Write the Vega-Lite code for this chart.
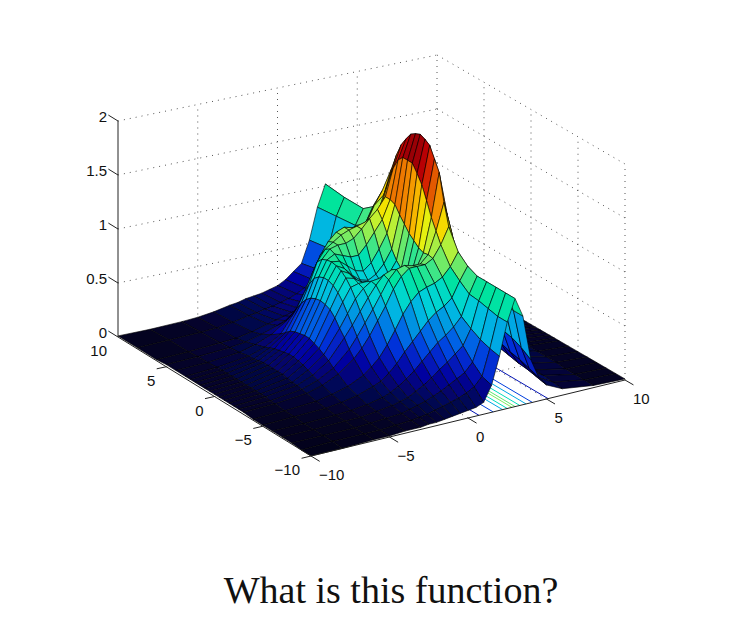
{"$schema":"https://vega.github.io/schema/vega-lite/v6.json","width":736,"height":560,"padding":0,"autosize":{"type":"pad"},"background":"white","config":{"view":{"stroke":null}},"title":{"text":"What is this function?","orient":"bottom","anchor":"middle","dx":23,"offset":13,"font":"Liberation Serif","fontSize":38,"fontWeight":"normal","color":"#111"},
"datasets":{"grid":[
{"u":-5,"v":10,"z":0,"u2":-5,"v2":10,"z2":2},{"u":0,"v":10,"z":0,"u2":0,"v2":10,"z2":2},{"u":5,"v":10,"z":0,"u2":5,"v2":10,"z2":2},{"u":10,"v":10,"z":0,"u2":10,"v2":10,"z2":2},{"u":10,"v":5,"z":0,"u2":10,"v2":5,"z2":2},{"u":10,"v":0,"z":0,"u2":10,"v2":0,"z2":2},{"u":10,"v":-5,"z":0,"u2":10,"v2":-5,"z2":2},{"u":10,"v":-10,"z":0,"u2":10,"v2":-10,"z2":2},
{"u":-10,"v":10,"z":0.5,"u2":10,"v2":10,"z2":0.5},{"u":-10,"v":10,"z":1,"u2":10,"v2":10,"z2":1},{"u":-10,"v":10,"z":1.5,"u2":10,"v2":10,"z2":1.5},{"u":-10,"v":10,"z":2,"u2":10,"v2":10,"z2":2},
{"u":10,"v":10,"z":0.5,"u2":10,"v2":-10,"z2":0.5},{"u":10,"v":10,"z":1,"u2":10,"v2":-10,"z2":1},{"u":10,"v":10,"z":1.5,"u2":10,"v2":-10,"z2":1.5},{"u":10,"v":10,"z":2,"u2":10,"v2":-10,"z2":2},
{"u":-5,"v":-10,"z":0,"u2":-5,"v2":10,"z2":0},{"u":0,"v":-10,"z":0,"u2":0,"v2":10,"z2":0},{"u":5,"v":-10,"z":0,"u2":5,"v2":10,"z2":0},{"u":-10,"v":-5,"z":0,"u2":10,"v2":-5,"z2":0},{"u":-10,"v":0,"z":0,"u2":10,"v2":0,"z2":0},{"u":-10,"v":5,"z":0,"u2":10,"v2":5,"z2":0}],
"box":[
{"u":-10,"v":10,"z":0,"u2":-10,"v2":10,"z2":2},{"u":-10,"v":10,"z":0,"u2":-10,"v2":-10,"z2":0},{"u":-10,"v":-10,"z":0,"u2":10,"v2":-10,"z2":0},
{"u":-10,"v":10,"z":0,"u2":-10,"v2":11,"z2":0},{"u":-10,"v":10,"z":0.5,"u2":-10,"v2":11,"z2":0.5},{"u":-10,"v":10,"z":1,"u2":-10,"v2":11,"z2":1},{"u":-10,"v":10,"z":1.5,"u2":-10,"v2":11,"z2":1.5},{"u":-10,"v":10,"z":2,"u2":-10,"v2":11,"z2":2},
{"u":-10,"v":5,"z":0,"u2":-10.6,"v2":5,"z2":0},{"u":-10,"v":0,"z":0,"u2":-10.6,"v2":0,"z2":0},{"u":-10,"v":-5,"z":0,"u2":-10.6,"v2":-5,"z2":0},{"u":-10,"v":-10,"z":0,"u2":-10.6,"v2":-10,"z2":0},
{"u":-10,"v":-10,"z":0,"u2":-10,"v2":-10.9,"z2":0},{"u":-5,"v":-10,"z":0,"u2":-5,"v2":-10.9,"z2":0},{"u":0,"v":-10,"z":0,"u2":0,"v2":-10.9,"z2":0},{"u":5,"v":-10,"z":0,"u2":5,"v2":-10.9,"z2":0},{"u":10,"v":-10,"z":0,"u2":10,"v2":-10.9,"z2":0}],
"contour":[
{"u":0.7,"v":-10,"z":0,"u2":0.7,"v2":0,"z2":0,"c":0.3},{"u":1.6,"v":-10,"z":0,"u2":1.6,"v2":0,"z2":0,"c":0.42},{"u":2.2,"v":-10,"z":0,"u2":2.2,"v2":0,"z2":0,"c":0.65},{"u":2.5,"v":-10,"z":0,"u2":2.5,"v2":0,"z2":0,"c":0.85},{"u":2.8,"v":-10,"z":0,"u2":2.8,"v2":0,"z2":0,"c":1.05},{"u":3,"v":-10,"z":0,"u2":3,"v2":0,"z2":0,"c":1.0},{"u":3.3,"v":-10,"z":0,"u2":3.3,"v2":0,"z2":0,"c":0.85},{"u":3.7,"v":-10,"z":0,"u2":3.7,"v2":0,"z2":0,"c":0.65},{"u":4.1,"v":-10,"z":0,"u2":4.1,"v2":0,"z2":0,"c":0.42},{"u":5.1,"v":-10,"z":0,"u2":5.1,"v2":0,"z2":0,"c":0.3}],
"zl":[{"t":"0","z":0},{"t":"0.5","z":0.5},{"t":"1","z":1},{"t":"1.5","z":1.5},{"t":"2","z":2}],
"vl":[{"t":"10","v":10},{"t":"5","v":5},{"t":"0","v":0},{"t":"−5","v":-5},{"t":"−10","v":-10}],
"ul":[{"t":"−10","u":-10},{"t":"−5","u":-5},{"t":"0","u":0},{"t":"5","u":5},{"t":"10","u":10}],
"surf":[
{"u":-10,"v":10,"z":0.01},{"u":-8,"v":10,"z":0.01},{"u":-6,"v":10,"z":0.02},{"u":-5,"v":10,"z":0.03},{"u":-4,"v":10,"z":0.05},{"u":-3,"v":10,"z":0.08},{"u":-2.5,"v":10,"z":0.09},{"u":-2,"v":10,"z":0.11},{"u":-1.5,"v":10,"z":0.12},{"u":-1,"v":10,"z":0.13},{"u":-0.5,"v":10,"z":0.15},{"u":0,"v":10,"z":0.17},{"u":0.5,"v":10,"z":0.21},{"u":1,"v":10,"z":0.27},{"u":1.5,"v":10,"z":0.33},{"u":2,"v":10,"z":0.53},{"u":2.5,"v":10,"z":0.82},{"u":3,"v":10,"z":1.02},{"u":3.5,"v":10,"z":0.85},{"u":4,"v":10,"z":0.55},{"u":4.5,"v":10,"z":0.35},{"u":5,"v":10,"z":0.22},{"u":6,"v":10,"z":0.1},{"u":8,"v":10,"z":0.03},{"u":10,"v":10,"z":0.01},
{"u":-10,"v":8,"z":0.01},{"u":-8,"v":8,"z":0.02},{"u":-6,"v":8,"z":0.03},{"u":-5,"v":8,"z":0.04},{"u":-4,"v":8,"z":0.06},{"u":-3,"v":8,"z":0.09},{"u":-2.5,"v":8,"z":0.1},{"u":-2,"v":8,"z":0.12},{"u":-1.5,"v":8,"z":0.13},{"u":-1,"v":8,"z":0.15},{"u":-0.5,"v":8,"z":0.17},{"u":0,"v":8,"z":0.2},{"u":0.5,"v":8,"z":0.24},{"u":1,"v":8,"z":0.3},{"u":1.5,"v":8,"z":0.37},{"u":2,"v":8,"z":0.56},{"u":2.5,"v":8,"z":0.84},{"u":3,"v":8,"z":1.0},{"u":3.5,"v":8,"z":0.83},{"u":4,"v":8,"z":0.54},{"u":4.5,"v":8,"z":0.35},{"u":5,"v":8,"z":0.22},{"u":6,"v":8,"z":0.1},{"u":8,"v":8,"z":0.03},{"u":10,"v":8,"z":0.01},
{"u":-10,"v":6,"z":0.01},{"u":-8,"v":6,"z":0.02},{"u":-6,"v":6,"z":0.04},{"u":-5,"v":6,"z":0.05},{"u":-4,"v":6,"z":0.08},{"u":-3,"v":6,"z":0.12},{"u":-2.5,"v":6,"z":0.14},{"u":-2,"v":6,"z":0.16},{"u":-1.5,"v":6,"z":0.18},{"u":-1,"v":6,"z":0.2},{"u":-0.5,"v":6,"z":0.23},{"u":0,"v":6,"z":0.27},{"u":0.5,"v":6,"z":0.32},{"u":1,"v":6,"z":0.38},{"u":1.5,"v":6,"z":0.46},{"u":2,"v":6,"z":0.62},{"u":2.5,"v":6,"z":0.86},{"u":3,"v":6,"z":1.0},{"u":3.5,"v":6,"z":0.84},{"u":4,"v":6,"z":0.55},{"u":4.5,"v":6,"z":0.36},{"u":5,"v":6,"z":0.23},{"u":6,"v":6,"z":0.1},{"u":8,"v":6,"z":0.03},{"u":10,"v":6,"z":0.01},
{"u":-10,"v":5,"z":0.02},{"u":-8,"v":5,"z":0.03},{"u":-6,"v":5,"z":0.05},{"u":-5,"v":5,"z":0.07},{"u":-4,"v":5,"z":0.11},{"u":-3,"v":5,"z":0.16},{"u":-2.5,"v":5,"z":0.19},{"u":-2,"v":5,"z":0.22},{"u":-1.5,"v":5,"z":0.26},{"u":-1,"v":5,"z":0.3},{"u":-0.5,"v":5,"z":0.35},{"u":0,"v":5,"z":0.4},{"u":0.5,"v":5,"z":0.46},{"u":1,"v":5,"z":0.52},{"u":1.5,"v":5,"z":0.6},{"u":2,"v":5,"z":0.72},{"u":2.5,"v":5,"z":0.92},{"u":3,"v":5,"z":1.07},{"u":3.5,"v":5,"z":0.88},{"u":4,"v":5,"z":0.58},{"u":4.5,"v":5,"z":0.38},{"u":5,"v":5,"z":0.25},{"u":6,"v":5,"z":0.11},{"u":8,"v":5,"z":0.03},{"u":10,"v":5,"z":0.01},
{"u":-10,"v":4,"z":0.02},{"u":-8,"v":4,"z":0.03},{"u":-6,"v":4,"z":0.06},{"u":-5,"v":4,"z":0.1},{"u":-4,"v":4,"z":0.16},{"u":-3,"v":4,"z":0.26},{"u":-2.5,"v":4,"z":0.33},{"u":-2,"v":4,"z":0.42},{"u":-1.5,"v":4,"z":0.52},{"u":-1,"v":4,"z":0.62},{"u":-0.5,"v":4,"z":0.72},{"u":0,"v":4,"z":0.82},{"u":0.5,"v":4,"z":0.87},{"u":1,"v":4,"z":0.9},{"u":1.5,"v":4,"z":0.95},{"u":2,"v":4,"z":1.0},{"u":2.5,"v":4,"z":1.15},{"u":3,"v":4,"z":1.27},{"u":3.5,"v":4,"z":1.02},{"u":4,"v":4,"z":0.65},{"u":4.5,"v":4,"z":0.42},{"u":5,"v":4,"z":0.27},{"u":6,"v":4,"z":0.12},{"u":8,"v":4,"z":0.04},{"u":10,"v":4,"z":0.01},
{"u":-10,"v":3,"z":0.02},{"u":-8,"v":3,"z":0.04},{"u":-6,"v":3,"z":0.08},{"u":-5,"v":3,"z":0.13},{"u":-4,"v":3,"z":0.22},{"u":-3,"v":3,"z":0.42},{"u":-2.5,"v":3,"z":0.56},{"u":-2,"v":3,"z":0.72},{"u":-1.5,"v":3,"z":0.87},{"u":-1,"v":3,"z":0.98},{"u":-0.5,"v":3,"z":1.05},{"u":0,"v":3,"z":1.08},{"u":0.5,"v":3,"z":1.06},{"u":1,"v":3,"z":1.05},{"u":1.5,"v":3,"z":1.05},{"u":2,"v":3,"z":1.1},{"u":2.5,"v":3,"z":1.3},{"u":3,"v":3,"z":1.53},{"u":3.5,"v":3,"z":1.2},{"u":4,"v":3,"z":0.75},{"u":4.5,"v":3,"z":0.47},{"u":5,"v":3,"z":0.3},{"u":6,"v":3,"z":0.13},{"u":8,"v":3,"z":0.04},{"u":10,"v":3,"z":0.01},
{"u":-10,"v":2.5,"z":0.02},{"u":-8,"v":2.5,"z":0.04},{"u":-6,"v":2.5,"z":0.08},{"u":-5,"v":2.5,"z":0.15},{"u":-4,"v":2.5,"z":0.26},{"u":-3,"v":2.5,"z":0.5},{"u":-2.5,"v":2.5,"z":0.66},{"u":-2,"v":2.5,"z":0.85},{"u":-1.5,"v":2.5,"z":0.95},{"u":-1,"v":2.5,"z":1.0},{"u":-0.5,"v":2.5,"z":1.05},{"u":0,"v":2.5,"z":1.08},{"u":0.5,"v":2.5,"z":1.1},{"u":1,"v":2.5,"z":1.12},{"u":1.5,"v":2.5,"z":1.14},{"u":2,"v":2.5,"z":1.22},{"u":2.5,"v":2.5,"z":1.45},{"u":3,"v":2.5,"z":1.68},{"u":3.5,"v":2.5,"z":1.3},{"u":4,"v":2.5,"z":0.8},{"u":4.5,"v":2.5,"z":0.5},{"u":5,"v":2.5,"z":0.32},{"u":6,"v":2.5,"z":0.13},{"u":8,"v":2.5,"z":0.04},{"u":10,"v":2.5,"z":0.01},
{"u":-10,"v":2,"z":0.02},{"u":-8,"v":2,"z":0.04},{"u":-6,"v":2,"z":0.09},{"u":-5,"v":2,"z":0.17},{"u":-4,"v":2,"z":0.3},{"u":-3,"v":2,"z":0.56},{"u":-2.5,"v":2,"z":0.74},{"u":-2,"v":2,"z":0.9},{"u":-1.5,"v":2,"z":0.98},{"u":-1,"v":2,"z":1.0},{"u":-0.5,"v":2,"z":1.0},{"u":0,"v":2,"z":1.03},{"u":0.5,"v":2,"z":1.1},{"u":1,"v":2,"z":1.18},{"u":1.5,"v":2,"z":1.25},{"u":2,"v":2,"z":1.35},{"u":2.5,"v":2,"z":1.6},{"u":3,"v":2,"z":1.8},{"u":3.5,"v":2,"z":1.4},{"u":4,"v":2,"z":0.85},{"u":4.5,"v":2,"z":0.53},{"u":5,"v":2,"z":0.33},{"u":6,"v":2,"z":0.14},{"u":8,"v":2,"z":0.04},{"u":10,"v":2,"z":0.01},
{"u":-10,"v":1.5,"z":0.02},{"u":-8,"v":1.5,"z":0.04},{"u":-6,"v":1.5,"z":0.1},{"u":-5,"v":1.5,"z":0.18},{"u":-4,"v":1.5,"z":0.32},{"u":-3,"v":1.5,"z":0.6},{"u":-2.5,"v":1.5,"z":0.78},{"u":-2,"v":1.5,"z":0.92},{"u":-1.5,"v":1.5,"z":0.96},{"u":-1,"v":1.5,"z":0.93},{"u":-0.5,"v":1.5,"z":0.9},{"u":0,"v":1.5,"z":0.9},{"u":0.5,"v":1.5,"z":0.98},{"u":1,"v":1.5,"z":1.08},{"u":1.5,"v":1.5,"z":1.18},{"u":2,"v":1.5,"z":1.35},{"u":2.5,"v":1.5,"z":1.7},{"u":3,"v":1.5,"z":1.88},{"u":3.5,"v":1.5,"z":1.45},{"u":4,"v":1.5,"z":0.88},{"u":4.5,"v":1.5,"z":0.54},{"u":5,"v":1.5,"z":0.34},{"u":6,"v":1.5,"z":0.14},{"u":8,"v":1.5,"z":0.04},{"u":10,"v":1.5,"z":0.01},
{"u":-10,"v":1,"z":0.02},{"u":-8,"v":1,"z":0.04},{"u":-6,"v":1,"z":0.1},{"u":-5,"v":1,"z":0.19},{"u":-4,"v":1,"z":0.33},{"u":-3,"v":1,"z":0.62},{"u":-2.5,"v":1,"z":0.8},{"u":-2,"v":1,"z":0.93},{"u":-1.5,"v":1,"z":0.92},{"u":-1,"v":1,"z":0.86},{"u":-0.5,"v":1,"z":0.8},{"u":0,"v":1,"z":0.78},{"u":0.5,"v":1,"z":0.84},{"u":1,"v":1,"z":0.95},{"u":1.5,"v":1,"z":1.08},{"u":2,"v":1,"z":1.33},{"u":2.5,"v":1,"z":1.75},{"u":3,"v":1,"z":1.95},{"u":3.5,"v":1,"z":1.5},{"u":4,"v":1,"z":0.9},{"u":4.5,"v":1,"z":0.55},{"u":5,"v":1,"z":0.35},{"u":6,"v":1,"z":0.15},{"u":8,"v":1,"z":0.04},{"u":10,"v":1,"z":0.01},
{"u":-10,"v":0.5,"z":0.02},{"u":-8,"v":0.5,"z":0.04},{"u":-6,"v":0.5,"z":0.1},{"u":-5,"v":0.5,"z":0.2},{"u":-4,"v":0.5,"z":0.34},{"u":-3,"v":0.5,"z":0.63},{"u":-2.5,"v":0.5,"z":0.8},{"u":-2,"v":0.5,"z":0.92},{"u":-1.5,"v":0.5,"z":0.88},{"u":-1,"v":0.5,"z":0.8},{"u":-0.5,"v":0.5,"z":0.74},{"u":0,"v":0.5,"z":0.72},{"u":0.5,"v":0.5,"z":0.76},{"u":1,"v":0.5,"z":0.84},{"u":1.5,"v":0.5,"z":0.96},{"u":2,"v":0.5,"z":1.26},{"u":2.5,"v":0.5,"z":1.75},{"u":3,"v":0.5,"z":1.98},{"u":3.5,"v":0.5,"z":1.53},{"u":4,"v":0.5,"z":0.91},{"u":4.5,"v":0.5,"z":0.56},{"u":5,"v":0.5,"z":0.36},{"u":6,"v":0.5,"z":0.15},{"u":8,"v":0.5,"z":0.04},{"u":10,"v":0.5,"z":0.01},
{"u":-10,"v":0,"z":0.02},{"u":-8,"v":0,"z":0.04},{"u":-6,"v":0,"z":0.1},{"u":-5,"v":0,"z":0.2},{"u":-4,"v":0,"z":0.34},{"u":-3,"v":0,"z":0.62},{"u":-2.5,"v":0,"z":0.78},{"u":-2,"v":0,"z":0.9},{"u":-1.5,"v":0,"z":0.86},{"u":-1,"v":0,"z":0.78},{"u":-0.5,"v":0,"z":0.72},{"u":0,"v":0,"z":0.7},{"u":0.5,"v":0,"z":0.72},{"u":1,"v":0,"z":0.77},{"u":1.5,"v":0,"z":0.88},{"u":2,"v":0,"z":1.2},{"u":2.5,"v":0,"z":1.75},{"u":3,"v":0,"z":2.0},{"u":3.5,"v":0,"z":1.55},{"u":4,"v":0,"z":0.92},{"u":4.5,"v":0,"z":0.56},{"u":5,"v":0,"z":0.36},{"u":6,"v":0,"z":0.15},{"u":8,"v":0,"z":0.04},{"u":10,"v":0,"z":0.01},
{"u":-10,"v":-0.5,"z":0.02},{"u":-8,"v":-0.5,"z":0.04},{"u":-6,"v":-0.5,"z":0.1},{"u":-5,"v":-0.5,"z":0.19},{"u":-4,"v":-0.5,"z":0.32},{"u":-3,"v":-0.5,"z":0.6},{"u":-2.5,"v":-0.5,"z":0.74},{"u":-2,"v":-0.5,"z":0.86},{"u":-1.5,"v":-0.5,"z":0.84},{"u":-1,"v":-0.5,"z":0.79},{"u":-0.5,"v":-0.5,"z":0.73},{"u":0,"v":-0.5,"z":0.7},{"u":0.5,"v":-0.5,"z":0.7},{"u":1,"v":-0.5,"z":0.73},{"u":1.5,"v":-0.5,"z":0.83},{"u":2,"v":-0.5,"z":1.14},{"u":2.5,"v":-0.5,"z":1.68},{"u":3,"v":-0.5,"z":1.98},{"u":3.5,"v":-0.5,"z":1.53},{"u":4,"v":-0.5,"z":0.91},{"u":4.5,"v":-0.5,"z":0.56},{"u":5,"v":-0.5,"z":0.36},{"u":6,"v":-0.5,"z":0.15},{"u":8,"v":-0.5,"z":0.04},{"u":10,"v":-0.5,"z":0.01},
{"u":-10,"v":-1,"z":0.02},{"u":-8,"v":-1,"z":0.04},{"u":-6,"v":-1,"z":0.09},{"u":-5,"v":-1,"z":0.18},{"u":-4,"v":-1,"z":0.3},{"u":-3,"v":-1,"z":0.55},{"u":-2.5,"v":-1,"z":0.68},{"u":-2,"v":-1,"z":0.8},{"u":-1.5,"v":-1,"z":0.82},{"u":-1,"v":-1,"z":0.82},{"u":-0.5,"v":-1,"z":0.78},{"u":0,"v":-1,"z":0.74},{"u":0.5,"v":-1,"z":0.72},{"u":1,"v":-1,"z":0.72},{"u":1.5,"v":-1,"z":0.8},{"u":2,"v":-1,"z":1.1},{"u":2.5,"v":-1,"z":1.6},{"u":3,"v":-1,"z":1.95},{"u":3.5,"v":-1,"z":1.5},{"u":4,"v":-1,"z":0.9},{"u":4.5,"v":-1,"z":0.55},{"u":5,"v":-1,"z":0.35},{"u":6,"v":-1,"z":0.15},{"u":8,"v":-1,"z":0.04},{"u":10,"v":-1,"z":0.01},
{"u":-10,"v":-1.5,"z":0.02},{"u":-8,"v":-1.5,"z":0.04},{"u":-6,"v":-1.5,"z":0.08},{"u":-5,"v":-1.5,"z":0.16},{"u":-4,"v":-1.5,"z":0.27},{"u":-3,"v":-1.5,"z":0.48},{"u":-2.5,"v":-1.5,"z":0.6},{"u":-2,"v":-1.5,"z":0.72},{"u":-1.5,"v":-1.5,"z":0.8},{"u":-1,"v":-1.5,"z":0.85},{"u":-0.5,"v":-1.5,"z":0.86},{"u":0,"v":-1.5,"z":0.84},{"u":0.5,"v":-1.5,"z":0.8},{"u":1,"v":-1.5,"z":0.78},{"u":1.5,"v":-1.5,"z":0.82},{"u":2,"v":-1.5,"z":1.06},{"u":2.5,"v":-1.5,"z":1.48},{"u":3,"v":-1.5,"z":1.85},{"u":3.5,"v":-1.5,"z":1.42},{"u":4,"v":-1.5,"z":0.86},{"u":4.5,"v":-1.5,"z":0.53},{"u":5,"v":-1.5,"z":0.33},{"u":6,"v":-1.5,"z":0.14},{"u":8,"v":-1.5,"z":0.04},{"u":10,"v":-1.5,"z":0.01},
{"u":-10,"v":-2,"z":0.02},{"u":-8,"v":-2,"z":0.04},{"u":-6,"v":-2,"z":0.08},{"u":-5,"v":-2,"z":0.14},{"u":-4,"v":-2,"z":0.24},{"u":-3,"v":-2,"z":0.42},{"u":-2.5,"v":-2,"z":0.52},{"u":-2,"v":-2,"z":0.63},{"u":-1.5,"v":-2,"z":0.74},{"u":-1,"v":-2,"z":0.84},{"u":-0.5,"v":-2,"z":0.92},{"u":0,"v":-2,"z":0.95},{"u":0.5,"v":-2,"z":0.92},{"u":1,"v":-2,"z":0.88},{"u":1.5,"v":-2,"z":0.9},{"u":2,"v":-2,"z":1.04},{"u":2.5,"v":-2,"z":1.35},{"u":3,"v":-2,"z":1.75},{"u":3.5,"v":-2,"z":1.35},{"u":4,"v":-2,"z":0.82},{"u":4.5,"v":-2,"z":0.5},{"u":5,"v":-2,"z":0.32},{"u":6,"v":-2,"z":0.14},{"u":8,"v":-2,"z":0.04},{"u":10,"v":-2,"z":0.01},
{"u":-10,"v":-2.5,"z":0.02},{"u":-8,"v":-2.5,"z":0.03},{"u":-6,"v":-2.5,"z":0.07},{"u":-5,"v":-2.5,"z":0.12},{"u":-4,"v":-2.5,"z":0.2},{"u":-3,"v":-2.5,"z":0.34},{"u":-2.5,"v":-2.5,"z":0.44},{"u":-2,"v":-2.5,"z":0.55},{"u":-1.5,"v":-2.5,"z":0.66},{"u":-1,"v":-2.5,"z":0.78},{"u":-0.5,"v":-2.5,"z":0.9},{"u":0,"v":-2.5,"z":0.98},{"u":0.5,"v":-2.5,"z":1.0},{"u":1,"v":-2.5,"z":0.98},{"u":1.5,"v":-2.5,"z":0.98},{"u":2,"v":-2.5,"z":1.05},{"u":2.5,"v":-2.5,"z":1.25},{"u":3,"v":-2.5,"z":1.5},{"u":3.5,"v":-2.5,"z":1.2},{"u":4,"v":-2.5,"z":0.75},{"u":4.5,"v":-2.5,"z":0.46},{"u":5,"v":-2.5,"z":0.3},{"u":6,"v":-2.5,"z":0.13},{"u":8,"v":-2.5,"z":0.03},{"u":10,"v":-2.5,"z":0.01},
{"u":-10,"v":-3,"z":0.02},{"u":-8,"v":-3,"z":0.03},{"u":-6,"v":-3,"z":0.06},{"u":-5,"v":-3,"z":0.1},{"u":-4,"v":-3,"z":0.17},{"u":-3,"v":-3,"z":0.28},{"u":-2.5,"v":-3,"z":0.36},{"u":-2,"v":-3,"z":0.46},{"u":-1.5,"v":-3,"z":0.58},{"u":-1,"v":-3,"z":0.7},{"u":-0.5,"v":-3,"z":0.84},{"u":0,"v":-3,"z":0.94},{"u":0.5,"v":-3,"z":1.0},{"u":1,"v":-3,"z":1.0},{"u":1.5,"v":-3,"z":1.0},{"u":2,"v":-3,"z":1.04},{"u":2.5,"v":-3,"z":1.15},{"u":3,"v":-3,"z":1.3},{"u":3.5,"v":-3,"z":1.05},{"u":4,"v":-3,"z":0.68},{"u":4.5,"v":-3,"z":0.43},{"u":5,"v":-3,"z":0.28},{"u":6,"v":-3,"z":0.12},{"u":8,"v":-3,"z":0.03},{"u":10,"v":-3,"z":0.01},
{"u":-10,"v":-4,"z":0.01},{"u":-8,"v":-4,"z":0.02},{"u":-6,"v":-4,"z":0.04},{"u":-5,"v":-4,"z":0.07},{"u":-4,"v":-4,"z":0.11},{"u":-3,"v":-4,"z":0.18},{"u":-2.5,"v":-4,"z":0.24},{"u":-2,"v":-4,"z":0.31},{"u":-1.5,"v":-4,"z":0.41},{"u":-1,"v":-4,"z":0.53},{"u":-0.5,"v":-4,"z":0.66},{"u":0,"v":-4,"z":0.76},{"u":0.5,"v":-4,"z":0.83},{"u":1,"v":-4,"z":0.86},{"u":1.5,"v":-4,"z":0.88},{"u":2,"v":-4,"z":0.92},{"u":2.5,"v":-4,"z":1.0},{"u":3,"v":-4,"z":1.12},{"u":3.5,"v":-4,"z":0.92},{"u":4,"v":-4,"z":0.6},{"u":4.5,"v":-4,"z":0.38},{"u":5,"v":-4,"z":0.24},{"u":6,"v":-4,"z":0.11},{"u":8,"v":-4,"z":0.03},{"u":10,"v":-4,"z":0.01},
{"u":-10,"v":-5,"z":0.01},{"u":-8,"v":-5,"z":0.02},{"u":-6,"v":-5,"z":0.03},{"u":-5,"v":-5,"z":0.05},{"u":-4,"v":-5,"z":0.08},{"u":-3,"v":-5,"z":0.13},{"u":-2.5,"v":-5,"z":0.16},{"u":-2,"v":-5,"z":0.22},{"u":-1.5,"v":-5,"z":0.29},{"u":-1,"v":-5,"z":0.38},{"u":-0.5,"v":-5,"z":0.46},{"u":0,"v":-5,"z":0.54},{"u":0.5,"v":-5,"z":0.62},{"u":1,"v":-5,"z":0.68},{"u":1.5,"v":-5,"z":0.72},{"u":2,"v":-5,"z":0.78},{"u":2.5,"v":-5,"z":0.92},{"u":3,"v":-5,"z":1.04},{"u":3.5,"v":-5,"z":0.86},{"u":4,"v":-5,"z":0.56},{"u":4.5,"v":-5,"z":0.35},{"u":5,"v":-5,"z":0.22},{"u":6,"v":-5,"z":0.1},{"u":8,"v":-5,"z":0.03},{"u":10,"v":-5,"z":0.01},
{"u":-10,"v":-6,"z":0.01},{"u":-8,"v":-6,"z":0.01},{"u":-6,"v":-6,"z":0.02},{"u":-5,"v":-6,"z":0.03},{"u":-4,"v":-6,"z":0.05},{"u":-3,"v":-6,"z":0.08},{"u":-2.5,"v":-6,"z":0.11},{"u":-2,"v":-6,"z":0.15},{"u":-1.5,"v":-6,"z":0.2},{"u":-1,"v":-6,"z":0.26},{"u":-0.5,"v":-6,"z":0.33},{"u":0,"v":-6,"z":0.4},{"u":0.5,"v":-6,"z":0.47},{"u":1,"v":-6,"z":0.52},{"u":1.5,"v":-6,"z":0.58},{"u":2,"v":-6,"z":0.66},{"u":2.5,"v":-6,"z":0.85},{"u":3,"v":-6,"z":1.0},{"u":3.5,"v":-6,"z":0.84},{"u":4,"v":-6,"z":0.54},{"u":4.5,"v":-6,"z":0.33},{"u":5,"v":-6,"z":0.2},{"u":6,"v":-6,"z":0.09},{"u":8,"v":-6,"z":0.03},{"u":10,"v":-6,"z":0.01},
{"u":-10,"v":-7,"z":0.01},{"u":-8,"v":-7,"z":0.01},{"u":-6,"v":-7,"z":0.02},{"u":-5,"v":-7,"z":0.02},{"u":-4,"v":-7,"z":0.04},{"u":-3,"v":-7,"z":0.06},{"u":-2.5,"v":-7,"z":0.08},{"u":-2,"v":-7,"z":0.1},{"u":-1.5,"v":-7,"z":0.14},{"u":-1,"v":-7,"z":0.18},{"u":-0.5,"v":-7,"z":0.23},{"u":0,"v":-7,"z":0.29},{"u":0.5,"v":-7,"z":0.34},{"u":1,"v":-7,"z":0.4},{"u":1.5,"v":-7,"z":0.46},{"u":2,"v":-7,"z":0.6},{"u":2.5,"v":-7,"z":0.84},{"u":3,"v":-7,"z":1.0},{"u":3.5,"v":-7,"z":0.83},{"u":4,"v":-7,"z":0.52},{"u":4.5,"v":-7,"z":0.3},{"u":5,"v":-7,"z":0.18},{"u":6,"v":-7,"z":0.08},{"u":8,"v":-7,"z":0.02},{"u":10,"v":-7,"z":0.01},
{"u":-10,"v":-8,"z":0.01},{"u":-8,"v":-8,"z":0.01},{"u":-6,"v":-8,"z":0.01},{"u":-5,"v":-8,"z":0.02},{"u":-4,"v":-8,"z":0.03},{"u":-3,"v":-8,"z":0.04},{"u":-2.5,"v":-8,"z":0.06},{"u":-2,"v":-8,"z":0.08},{"u":-1.5,"v":-8,"z":0.1},{"u":-1,"v":-8,"z":0.13},{"u":-0.5,"v":-8,"z":0.16},{"u":0,"v":-8,"z":0.2},{"u":0.5,"v":-8,"z":0.24},{"u":1,"v":-8,"z":0.28},{"u":1.5,"v":-8,"z":0.36},{"u":2,"v":-8,"z":0.55},{"u":2.5,"v":-8,"z":0.82},{"u":3,"v":-8,"z":1.0},{"u":3.5,"v":-8,"z":0.83},{"u":4,"v":-8,"z":0.5},{"u":4.5,"v":-8,"z":0.28},{"u":5,"v":-8,"z":0.17},{"u":6,"v":-8,"z":0.08},{"u":8,"v":-8,"z":0.02},{"u":10,"v":-8,"z":0.01},
{"u":-10,"v":-9,"z":0},{"u":-8,"v":-9,"z":0.01},{"u":-6,"v":-9,"z":0.01},{"u":-5,"v":-9,"z":0.01},{"u":-4,"v":-9,"z":0.02},{"u":-3,"v":-9,"z":0.03},{"u":-2.5,"v":-9,"z":0.04},{"u":-2,"v":-9,"z":0.05},{"u":-1.5,"v":-9,"z":0.07},{"u":-1,"v":-9,"z":0.09},{"u":-0.5,"v":-9,"z":0.11},{"u":0,"v":-9,"z":0.13},{"u":0.5,"v":-9,"z":0.16},{"u":1,"v":-9,"z":0.2},{"u":1.5,"v":-9,"z":0.28},{"u":2,"v":-9,"z":0.52},{"u":2.5,"v":-9,"z":0.8},{"u":3,"v":-9,"z":1.0},{"u":3.5,"v":-9,"z":0.82},{"u":4,"v":-9,"z":0.46},{"u":4.5,"v":-9,"z":0.25},{"u":5,"v":-9,"z":0.15},{"u":6,"v":-9,"z":0.07},{"u":8,"v":-9,"z":0.02},{"u":10,"v":-9,"z":0.01},
{"u":-10,"v":-10,"z":0},{"u":-8,"v":-10,"z":0},{"u":-6,"v":-10,"z":0.01},{"u":-5,"v":-10,"z":0.01},{"u":-4,"v":-10,"z":0.02},{"u":-3,"v":-10,"z":0.02},{"u":-2.5,"v":-10,"z":0.03},{"u":-2,"v":-10,"z":0.03},{"u":-1.5,"v":-10,"z":0.04},{"u":-1,"v":-10,"z":0.05},{"u":-0.5,"v":-10,"z":0.06},{"u":0,"v":-10,"z":0.07},{"u":0.5,"v":-10,"z":0.08},{"u":1,"v":-10,"z":0.11},{"u":1.5,"v":-10,"z":0.25},{"u":2,"v":-10,"z":0.5},{"u":2.5,"v":-10,"z":0.8},{"u":3,"v":-10,"z":1.0},{"u":3.5,"v":-10,"z":0.82},{"u":4,"v":-10,"z":0.4},{"u":4.5,"v":-10,"z":0.22},{"u":5,"v":-10,"z":0.13},{"u":6,"v":-10,"z":0.06},{"u":8,"v":-10,"z":0.02},{"u":10,"v":-10,"z":0.01}]},
"layer":[
{"data":{"name":"grid"},"transform":[
{"calculate":"311+15.7*(datum.u+10)-9.65*(datum.v+10)+0.0125*(datum.u+10)*(datum.v+10)","as":"sx"},{"calculate":"456-3.8*(datum.u+10)-5.95*(datum.v+10)+0.025*(datum.u+10)*(datum.v+10)-108*datum.z","as":"sy"},
{"calculate":"311+15.7*(datum.u2+10)-9.65*(datum.v2+10)+0.0125*(datum.u2+10)*(datum.v2+10)","as":"sx2"},{"calculate":"456-3.8*(datum.u2+10)-5.95*(datum.v2+10)+0.025*(datum.u2+10)*(datum.v2+10)-108*datum.z2","as":"sy2"}],
"mark":{"type":"rule","color":"#555","strokeWidth":1,"strokeDash":[1,5]},
"encoding":{"x":{"field":"sx","type":"quantitative","scale":{"domain":[0,736],"nice":false,"zero":false},"axis":null},"y":{"field":"sy","type":"quantitative","scale":{"domain":[560,0],"nice":false,"zero":false},"axis":null},"x2":{"field":"sx2"},"y2":{"field":"sy2"}}},
{"data":{"name":"contour"},"transform":[
{"calculate":"311+15.7*(datum.u+10)-9.65*(datum.v+10)+0.0125*(datum.u+10)*(datum.v+10)","as":"sx"},{"calculate":"456-3.8*(datum.u+10)-5.95*(datum.v+10)+0.025*(datum.u+10)*(datum.v+10)-108*datum.z","as":"sy"},
{"calculate":"311+15.7*(datum.u2+10)-9.65*(datum.v2+10)+0.0125*(datum.u2+10)*(datum.v2+10)","as":"sx2"},{"calculate":"456-3.8*(datum.u2+10)-5.95*(datum.v2+10)+0.025*(datum.u2+10)*(datum.v2+10)-108*datum.z2","as":"sy2"}],
"mark":{"type":"rule","strokeWidth":1},
"encoding":{"x":{"field":"sx","type":"quantitative","axis":null},"y":{"field":"sy","type":"quantitative","axis":null},"x2":{"field":"sx2"},"y2":{"field":"sy2"},
"color":{"field":"c","type":"quantitative","legend":null,"scale":{"domain":[0,0.05,0.15,0.25,0.4,0.6,0.75,1,1.25,1.5,1.75,2],"range":["#020218","#03033a","#05056a","#0000a0","#0030d8","#0090e0","#00d0d8","#60e870","#f0f000","#f08000","#d00000","#600000"]}}}},
{"data":{"name":"surf"},"transform":[
{"calculate":"311+15.7*(datum.u+10)-9.65*(datum.v+10)+0.0125*(datum.u+10)*(datum.v+10)","as":"sx"},{"calculate":"456-3.8*(datum.u+10)-5.95*(datum.v+10)+0.025*(datum.u+10)*(datum.v+10)-108*datum.z","as":"sy"},
{"window":[{"op":"lead","field":"sx","as":"sxr"},{"op":"lead","field":"sy","as":"syr"},{"op":"lead","field":"z","as":"zr"}],"groupby":["v"],"sort":[{"field":"u","order":"ascending"}]},
{"window":[{"op":"lead","field":"sx","as":"sxf"},{"op":"lead","field":"sy","as":"syf"},{"op":"lead","field":"sxr","as":"sxg"},{"op":"lead","field":"syr","as":"syg"},{"op":"lead","field":"z","as":"zf"},{"op":"lead","field":"zr","as":"zg"}],"groupby":["u"],"sort":[{"field":"v","order":"ascending"}]},
{"filter":"isValid(datum.sxg)"},
{"calculate":"{type:'Polygon',coordinates:[[[datum.sx,datum.sy],[datum.sxr,datum.syr],[datum.sxg,datum.syg],[datum.sxf,datum.syf],[datum.sx,datum.sy]]]}","as":"geo"},
{"calculate":"(datum.z+datum.zr+datum.zf+datum.zg)/4","as":"zm"},
{"calculate":"3.8*datum.u+5.95*datum.v","as":"d"}],
"projection":{"type":"identity","scale":1,"translate":[0,0]},
"mark":{"type":"geoshape","stroke":"#000","strokeWidth":0.6},
"encoding":{"shape":{"field":"geo","type":"geojson"},"color":{"field":"zm","type":"quantitative","legend":null},"order":{"field":"d","sort":"descending"}}},
{"data":{"name":"box"},"transform":[
{"calculate":"311+15.7*(datum.u+10)-9.65*(datum.v+10)+0.0125*(datum.u+10)*(datum.v+10)","as":"sx"},{"calculate":"456-3.8*(datum.u+10)-5.95*(datum.v+10)+0.025*(datum.u+10)*(datum.v+10)-108*datum.z","as":"sy"},
{"calculate":"311+15.7*(datum.u2+10)-9.65*(datum.v2+10)+0.0125*(datum.u2+10)*(datum.v2+10)","as":"sx2"},{"calculate":"456-3.8*(datum.u2+10)-5.95*(datum.v2+10)+0.025*(datum.u2+10)*(datum.v2+10)-108*datum.z2","as":"sy2"}],
"mark":{"type":"rule","color":"#222","strokeWidth":1},
"encoding":{"x":{"field":"sx","type":"quantitative","axis":null},"y":{"field":"sy","type":"quantitative","axis":null},"x2":{"field":"sx2"},"y2":{"field":"sy2"}}},
{"data":{"name":"zl"},"transform":[{"calculate":"118","as":"sx"},{"calculate":"337-108*datum.z","as":"sy"}],
"mark":{"type":"text","font":"Liberation Sans","fontSize":15,"align":"right","baseline":"middle","dx":-11,"dy":-4,"color":"#111"},
"encoding":{"x":{"field":"sx","type":"quantitative","axis":null},"y":{"field":"sy","type":"quantitative","axis":null},"text":{"field":"t"}}},
{"data":{"name":"vl"},"transform":[{"calculate":"311-9.65*(datum.v+10)","as":"sx"},{"calculate":"456-5.95*(datum.v+10)","as":"sy"}],
"mark":{"type":"text","font":"Liberation Sans","fontSize":15,"align":"right","baseline":"middle","dx":-11,"dy":14,"color":"#111"},
"encoding":{"x":{"field":"sx","type":"quantitative","axis":null},"y":{"field":"sy","type":"quantitative","axis":null},"text":{"field":"t"}}},
{"data":{"name":"ul"},"transform":[{"calculate":"311+15.7*(datum.u+10)","as":"sx"},{"calculate":"456-3.8*(datum.u+10)","as":"sy"}],
"mark":{"type":"text","font":"Liberation Sans","fontSize":15,"align":"left","baseline":"middle","dx":8,"dy":19,"color":"#111"},
"encoding":{"x":{"field":"sx","type":"quantitative","axis":null},"y":{"field":"sy","type":"quantitative","axis":null},"text":{"field":"t"}}}
]}
